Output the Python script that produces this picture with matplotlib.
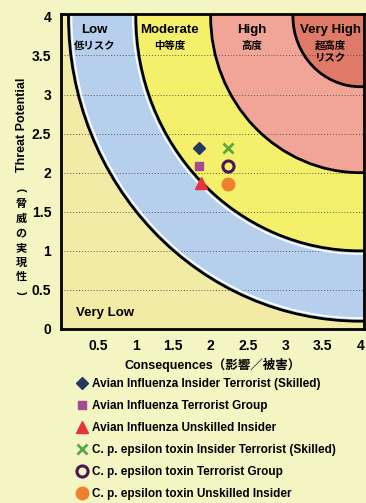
import matplotlib
matplotlib.use("Agg")
import matplotlib.pyplot as plt
from matplotlib.patches import Circle

# ---- data ----
xticks = [0.5, 1, 1.5, 2, 2.5, 3, 3.5, 4]
xticklabels = ["0.5", "1", "1.5", "2", "2.5", "3", "3.5", "4"]
yticks = [0, 0.5, 1, 1.5, 2, 2.5, 3, 3.5, 4]
yticklabels = ["0", "0.5", "1", "1.5", "2", "2.5", "3", "3.5", "4"]

# risk zones: quarter circles around the (4, 4) corner
zone_center = (4.0, 4.0)
zone_radii = [3.9, 3.0, 2.0, 0.9]
zone_colors = ["#b6cfec", "#f5f06c", "#f1a596", "#df7a68"]
verylow_color = "#f2eba6"

zone_names = ["Low", "Moderate", "High", "Very High"]
zone_names_jp = [["低リスク"], ["中等度"], ["高度"], ["超高度", "リスク"]]
zone_label_x = [0.45, 1.45, 2.55, 3.6]

labels = [
    "Avian Influenza Insider Terrorist (Skilled)",
    "Avian Influenza Terrorist Group",
    "Avian Influenza Unskilled Insider",
    "C. p. epsilon toxin Insider Terrorist (Skilled)",
    "C. p. epsilon toxin Terrorist Group",
    "C. p. epsilon toxin Unskilled Insider",
]
cons = [1.85, 1.85, 1.87, 2.23, 2.23, 2.23]
threat = [2.31, 2.08, 1.87, 2.31, 2.08, 1.86]

styles = [
    dict(marker="D", color="#26395e", ms=6),
    dict(marker="s", color="#a54b93", ms=6),
    dict(marker="^", color="#e8333c", ms=8),
    dict(marker="x", color="#5aa845", ms=7, mew=2),
    dict(marker="o", color="#4b1458", ms=8, mew=2.2, mfc="none"),
    dict(marker="o", color="#f07f2e", ms=9),
]

ylabel_jp = "(脅威の実現性)"

fnt = ["Liberation Sans Narrow", "Liberation Sans", "Noto Sans CJK JP"]
plt.rcParams["font.family"] = fnt
plt.rcParams["font.weight"] = "bold"
plt.rcParams["axes.labelweight"] = "bold"

bg = "#f3f6c2"
fig = plt.figure(figsize=(3.66, 5.03), dpi=100, facecolor=bg)
ax = fig.add_axes([61/366, 1-329/503, 303/366, 315/503])
ax.set_facecolor(verylow_color)
ax.set_xlim(0, 4.05)
ax.set_ylim(0, 4.03)

# filled zones
for r, c in zip(zone_radii, zone_colors):
    ax.add_patch(Circle(zone_center, r, facecolor=c, edgecolor="none", zorder=1))

# dotted grid
for y in yticks[1:-1]:
    ax.axhline(y, color="#555555", lw=0.7, ls=(0, (1, 2)), zorder=1.5)

# white halo inside the blue band, then black borders
ax.add_patch(Circle(zone_center, zone_radii[0]-0.04, fill=False, ec="white", lw=1.2, zorder=1.8))
ax.add_patch(Circle(zone_center, zone_radii[1]+0.04, fill=False, ec="white", lw=1.2, zorder=1.8))
for r in zone_radii:
    ax.add_patch(Circle(zone_center, r, fill=False, ec="black", lw=2, zorder=2))

# zone labels
for name, jp, x in zip(zone_names, zone_names_jp, zone_label_x):
    ax.text(x, 3.83, name, ha="center", va="center", fontsize=9.5, zorder=3)
    for k, line in enumerate(jp):
        ax.text(x, 3.62 - k*0.16, line, ha="center", va="center", fontsize=7.5, zorder=3)
ax.text(0.2, 0.2, "Very Low", ha="left", va="center", fontsize=9.5, zorder=3)

# scenario points
for x, y, lab, st in zip(cons, threat, labels, styles):
    ax.plot([x], [y], ls="none", label=lab, zorder=4, **st)

ax.set_xticks(xticks)
ax.set_xticklabels(xticklabels)
ax.set_yticks(yticks)
ax.set_yticklabels(yticklabels)
ax.tick_params(length=0, labelsize=10, pad=7)
for s in ax.spines.values():
    s.set_linewidth(2)
    s.set_zorder(5)

ax.set_xlabel("Consequences（影響／被害）", fontsize=9, labelpad=4)
fig.text(22/366, 1-125/503, "Threat Potential", rotation=90, ha="center", va="center", fontsize=9)
# Japanese part written vertically, one glyph per step
for i, ch in enumerate(ylabel_jp):
    rot = -90 if ch in "()" else 0
    fig.text(21/366, 1-(190 + i*14.5)/503, ch, ha="center", va="center",
             fontsize=8, rotation=rot)

fig.legend(loc="upper left", bbox_to_anchor=(75/366, 1-378/503), frameon=False,
           fontsize=8.5, handletextpad=0.2, labelspacing=0.85, borderaxespad=0,
           handlelength=1.2, borderpad=0)

fig.savefig("out.png", dpi=100, facecolor=bg)
